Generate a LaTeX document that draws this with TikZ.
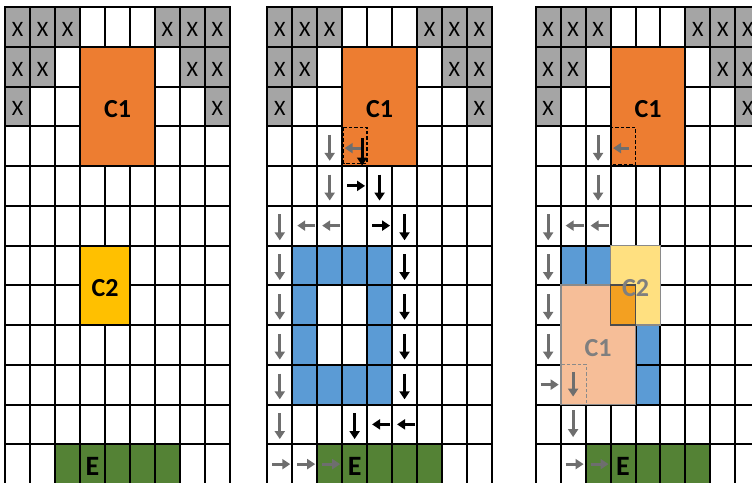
\documentclass[tikz,border=0pt]{standalone}
\usepackage{fontspec}
\setmainfont{Carlito}
\usetikzlibrary{arrows.meta}
\definecolor{xgray}{HTML}{A5A5A5}
\definecolor{corange}{HTML}{ED7D31}
\definecolor{cyellow}{HTML}{FFC000}
\definecolor{egreen}{HTML}{548235}
\definecolor{oblue}{HTML}{5B9BD5}
\definecolor{agray}{HTML}{6E6E6E}
\definecolor{lorange}{HTML}{F6BE98}
\definecolor{lyellow}{HTML}{FFE080}
\definecolor{mixorange}{HTML}{F3A021}
\definecolor{ltext}{HTML}{7F7F7F}
\definecolor{oborder}{HTML}{8A8A8A}
\tikzset{
  gl/.style={line width=2pt, draw=black, line cap=rect},
  xlab/.style={font=\fontsize{22}{22}\selectfont, inner sep=0pt, yshift=-2.5pt},
  blab/.style={font=\bfseries\fontsize{26}{26}\selectfont, inner sep=0pt, yshift=-3pt},
  elab/.style={font=\bfseries\fontsize{28}{28}\selectfont, inner sep=0pt, yshift=-2pt},
  arrg/.style={-{Triangle[length=8pt,width=10pt]}, line width=3pt, draw=agray},
  arrb/.style={-{Triangle[length=8pt,width=10pt]}, line width=3pt, draw=black},
  dbox/.style={line width=1.4pt, dash pattern=on 3.5pt off 2pt},
  ovl/.style={line width=1.8pt, draw=oborder},
}
\newcommand\GridFills{%
  \foreach \c/\r in {0/0,1/0,2/0,6/0,7/0,8/0,0/1,1/1,7/1,8/1,0/2,8/2}{
    \fill[xgray] (\c,\r) rectangle ++(1,1);
  }
  \fill[egreen] (2,11) rectangle (7,12);
}
\newcommand\GridLines{%
  \foreach \i in {0,...,9}{\draw[gl] (\i,0) -- (\i,12.3);}
  \foreach \j in {0,...,12}{\draw[gl] (0,\j) -- (9,\j);}
}
\newcommand\GridTop{%
  \foreach \c/\r in {0/0,1/0,2/0,6/0,7/0,8/0,0/1,1/1,7/1,8/1,0/2,8/2}{
    \node[xlab] (x\c-\r) at (\c+0.5,\r+0.5) {X};
  }
  \draw[gl, fill=corange] (3,1) rectangle (6,4);
  \node[blab] (c1) at (4.5,2.5) {C1};
  \node[elab] (e) at (3.5,11.5) {E};
}
\newcommand\BlueRing{%
  \fill[oblue] (1,6) rectangle (5,7);
  \fill[oblue] (1,9) rectangle (5,10);
  \fill[oblue] (1,7) rectangle (2,9);
  \fill[oblue] (4,7) rectangle (5,9);
}
\newcommand\ArD[3][arrg]{\draw[#1] ({#2+0.5},{#3+0.22}) -- ({#2+0.5},{#3+0.87});}
\newcommand\ArR[3][arrg]{\draw[#1] ({#2+0.2},{#3+0.5}) -- ({#2+0.92},{#3+0.5});}
\newcommand\ArL[3][arrg]{\draw[#1] ({#2+0.92},{#3+0.5}) -- ({#2+0.2},{#3+0.5});}
\begin{document}
\begin{tikzpicture}[x=1pt,y=-1pt]
\useasboundingbox (0,0) rectangle (752,482);
\fill[white] (0,0) rectangle (752,482);
\clip (0,0) rectangle (752,482);

% ---------- Grid 1 ----------
\begin{scope}[shift={(5.2pt,-7pt)}, x=24.95pt, y=-39.75pt, name prefix=ga-]
  \GridFills
  \GridLines
  \GridTop
  \draw[gl, fill=cyellow] (3,6) rectangle (5,8);
  \node[blab] (c2) at (4,7) {C2};
\end{scope}

% ---------- Grid 2 ----------
\begin{scope}[shift={(267.3pt,-7pt)}, x=24.95pt, y=-39.75pt, name prefix=gb-]
  \GridFills
  \BlueRing
  \GridLines
  \GridTop
  \draw[dbox] (3.06,3.03) rectangle (4,3.93);
  % gray arrows
  \ArD{2}{3} \ArD{2}{4}
  \foreach \r in {5,...,10}{\ArD{0}{\r}}
  \ArL{1}{5} \ArL{2}{5}
  \ArR{0}{11} \ArR{1}{11} \ArR{2}{11}
  \draw[arrg] (3.75,3.55) -- (3.1,3.55);
  % black arrows
  \draw[arrb] (3.8,3.3) -- (3.8,3.99);
  \ArR[arrb]{3}{4} \ArD[arrb]{4}{4}
  \ArR[arrb]{4}{5}
  \foreach \r in {5,...,9}{\ArD[arrb]{5}{\r}}
  \ArD[arrb]{3}{10}
  \ArL[arrb]{4}{10} \ArL[arrb]{5}{10}
\end{scope}

% ---------- Grid 3 ----------
\begin{scope}[shift={(535.7pt,-7pt)}, x=24.95pt, y=-39.75pt, name prefix=gc-]
  \GridFills
  \BlueRing
  \GridLines
  \GridTop
  \draw[dbox] (3.04,3.03) rectangle (4,3.97);
  % overlays
  \draw[ovl, fill=lorange] (1,7) rectangle (4,10);
  \draw[ovl, fill=lyellow] (3,6) rectangle (5,8);
  \draw[line width=1.6pt, draw=black!70, fill=mixorange] (3,7) rectangle (4,8);
  \node[blab, text=ltext] (c1o) at (2.5,8.5) {C1};
  \node[blab, text=ltext] (c2o) at (4,7) {C2};
  \draw[dbox, draw=oborder] (1.04,9.0) rectangle (2.04,10);
  % gray arrows
  \draw[arrg] (3.75,3.55) -- (3.1,3.55);
  \ArD{2}{3} \ArD{2}{4}
  \ArD{0}{5} \ArL{1}{5} \ArL{2}{5}
  \ArD{0}{6} \ArD{0}{7} \ArD{0}{8}
  \ArR{0}{9}
  \draw[arrg] (1.5,9.18) -- (1.5,9.8);
  \draw[arrg] (1.5,10.14) -- (1.5,10.82);
  \ArR{1}{11} \ArR{2}{11}
\end{scope}
\end{tikzpicture}
\end{document}
